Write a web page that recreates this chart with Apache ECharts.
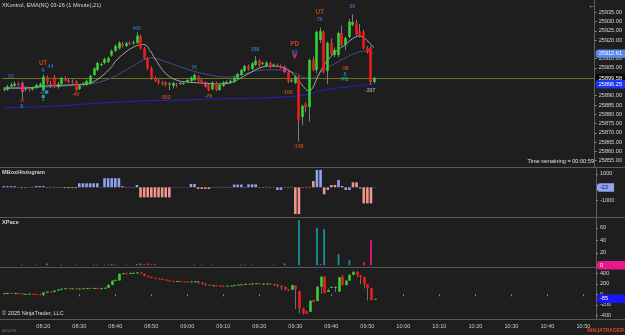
<!DOCTYPE html>
<html><head><meta charset="utf-8">
<script src="https://cdn.jsdelivr.net/npm/echarts@6/dist/echarts.min.js"></script>
<style>html,body{margin:0;padding:0;background:#1e1e1e;overflow:hidden}#c{width:625px;height:335px}</style>
</head><body><div id="c"></div>
<script>
// ---------- categories (1-minute bars) ----------
const categories = [];
for (let k = 0; k < 165; k++) { const m = 8 * 60 + 9 + k; categories.push(String(Math.floor(m / 60)).padStart(2, '0') + ':' + String(m % 60).padStart(2, '0')); }

// ---------- main price candles (08:09 .. 09:52) ----------
const priceOpen  = [25893.5,25893.2,25895.0,25895.4,25896.4,25896.9,25893.4,25894.0,25893.4,25894.3,25895.3,25893.2,25900.0,25896.6,25900.1,25894.7,25896.4,25899.4,25898.5,25897.8,25897.6,25893.6,25895.9,25895.8,25896.5,25901.2,25903.9,25906.6,25907.7,25908.2,25911.7,25914.2,25915.5,25917.9,25916.8,25918.5,25918.3,25918.5,25922.0,25915.6,25910.0,25905.0,25899.6,25898.3,25897.0,25897.2,25896.0,25895.3,25896.4,25896.9,25897.0,25897.4,25898.0,25898.5,25900.3,25898.5,25896.9,25895.8,25893.5,25896.9,25893.1,25895.3,25897.4,25896.9,25897.6,25899.4,25901.2,25903.4,25906.0,25904.4,25906.6,25908.9,25907.3,25906.0,25907.7,25906.2,25906.6,25906.0,25905.6,25902.8,25898.0,25896.9,25900.1,25878.5,25885.5,25883.9,25909.3,25903.9,25920.0,25924.4,25903.4,25918.5,25912.0,25912.0,25923.8,25917.4,25921.7,25928.2,25929.2,25924.9,25924.4,25915.8,25915.8,25897.4];
const priceHigh  = [25894.6,25896.0,25897.0,25897.6,25897.2,25897.8,25895.2,25894.8,25895.0,25896.4,25897.2,25901.4,25900.9,25898.0,25901.2,25897.4,25900.2,25900.4,25899.4,25898.8,25898.4,25896.2,25897.3,25898.8,25901.4,25905.4,25908.4,25907.9,25910.6,25911.2,25915.0,25917.6,25919.4,25919.0,25919.2,25919.4,25919.8,25924.2,25923.0,25916.4,25910.8,25905.8,25900.4,25899.0,25897.8,25897.8,25897.4,25897.6,25897.0,25897.8,25897.6,25899.0,25900.4,25902.0,25901.0,25899.2,25897.6,25896.6,25897.8,25897.6,25896.6,25898.0,25898.2,25898.8,25900.4,25902.4,25904.6,25906.8,25906.8,25908.2,25911.4,25909.6,25908.4,25908.6,25908.4,25907.4,25907.4,25906.8,25906.4,25903.4,25899.2,25901.0,25901.0,25885.2,25886.4,25910.0,25911.0,25925.2,25926.8,25925.2,25919.2,25920.8,25916.0,25924.6,25928.0,25922.0,25931.4,25934.0,25931.0,25928.6,25925.4,25916.8,25916.6,25900.2];
const priceLow   = [25892.4,25892.6,25894.2,25894.8,25895.0,25888.6,25892.3,25892.4,25892.8,25893.6,25894.8,25892.0,25896.2,25894.2,25894.0,25893.8,25895.8,25897.6,25896.8,25896.6,25892.4,25893.0,25895.0,25895.2,25896.0,25900.6,25903.2,25905.8,25907.0,25907.6,25911.0,25913.6,25914.8,25916.0,25916.2,25917.2,25917.4,25918.0,25915.0,25909.4,25904.0,25898.6,25897.4,25896.2,25895.6,25895.0,25893.0,25894.0,25894.6,25895.8,25895.8,25896.8,25897.4,25898.0,25897.6,25896.2,25894.4,25892.4,25892.8,25892.4,25892.6,25894.8,25896.6,25896.4,25897.0,25898.8,25900.6,25902.8,25903.6,25903.8,25906.0,25905.6,25906.6,25905.4,25904.8,25905.4,25905.6,25904.6,25902.2,25896.8,25897.2,25896.2,25865.2,25874.0,25881.0,25876.0,25903.2,25902.0,25918.4,25902.0,25896.2,25911.6,25910.8,25910.8,25916.6,25914.6,25920.8,25927.4,25922.4,25921.4,25915.0,25912.8,25896.0,25896.6];
const priceClose = [25893.6,25895.0,25895.9,25896.5,25895.7,25892.0,25894.1,25893.2,25894.6,25895.9,25896.5,25900.4,25897.2,25896.0,25894.7,25896.4,25899.6,25898.3,25897.4,25897.1,25893.1,25895.4,25896.5,25898.0,25900.7,25904.7,25907.7,25907.1,25909.8,25910.4,25914.2,25916.8,25918.6,25916.8,25918.3,25917.9,25918.8,25922.4,25915.6,25910.0,25904.8,25899.3,25898.2,25896.9,25896.8,25895.8,25896.6,25896.9,25895.8,25896.9,25896.4,25898.5,25899.8,25901.2,25898.1,25896.8,25895.0,25893.1,25897.0,25893.1,25895.8,25897.2,25897.4,25898.0,25899.8,25901.7,25903.9,25906.0,25904.2,25907.5,25908.9,25906.2,25907.7,25907.8,25905.6,25906.8,25906.2,25905.3,25902.8,25897.6,25898.3,25900.3,25876.9,25884.5,25883.9,25909.3,25903.9,25924.4,25924.9,25902.8,25918.5,25912.5,25914.7,25923.8,25917.4,25921.1,25929.8,25929.8,25923.3,25922.2,25915.8,25913.6,25897.4,25899.58];

// ---------- moving lines (read at sample bars: [bar, price]) ----------
const fastLine = [[0,25894.2],[6,25894.2],[12,25895.3],[18,25895.8],[24,25896.9],[27,25900.1],[30,25905.5],[31,25908.3],[34,25913.6],[37,25917.0],[39,25917.6],[41,25913.6],[42,25910.3],[45,25902.2],[48,25898.5],[51,25897.4],[55,25896.9],[60,25896.4],[63,25896.9],[66,25899.6],[69,25902.8],[72,25905.5],[75,25906.0],[78,25905.0],[80,25902.8],[82,25898.5],[84,25893.7],[85,25892.6],[86,25894.2],[87,25898.5],[89,25906.0],[91,25910.9],[93,25914.7],[95,25917.4],[97,25920.6],[99,25922.2],[101,25920.1],[103,25915.8]];
const ema21 = [[0,25893.7],[12,25894.7],[24,25896.4],[30,25899.6],[36,25906.0],[41,25910.4],[45,25908.4],[50,25905.0],[56,25901.7],[62,25900.1],[67,25901.7],[72,25903.9],[77,25903.9],[81,25902.3],[84,25899.6],[86,25899.6],[89,25903.9],[92,25907.1],[95,25910.4],[98,25913.0],[101,25914.1],[103,25912.61]];
const longLine = [[0,25883.4],[15,25884.5],[27,25886.1],[38,25887.2],[50,25887.7],[60,25888.3],[72,25888.8],[80,25889.6],[84,25890.4],[88,25892.6],[93,25894.2],[98,25895.3],[103,25896.25]];

// ---------- annotations [bar, price, text] ----------
const blueTags   = [[2,25900.6,'50'],[11,25903.4,'6'],[13,25905.5,'44'],[11,25891.5,'-23'],[37,25926.0,'400'],[53,25905.0,'76'],[70,25914.7,'388'],[81,25913.0,'83'],[88,25930.8,'76'],[97,25937.9,'38']];
const orangeTags = [[5,25887.2,'-8'],[20,25890.4,'-45'],[45,25888.8,'-552'],[57,25889.3,'-76'],[79,25891.5,'-100'],[82,25862.4,'-108'],[95,25904.4,'-58']];
const signalTags = [[11,25907.7,'UT'],[81,25917.9,'PD'],[88,25935.2,'UT']];
const tealTags   = [[5,25884.0,'8'],[11,25887.7,'2'],[95,25901.7,'8'],[95,25898.5,'PB']];
const grayTags   = [[102,25892.6,'-337']];
const pinkMarks  = [[81,25911.0]];
const cyanMarks  = [[12,25892.0],[11,25889.6]];

// ---------- MBoxHistogram ----------
const mboxValues = [80,80,80,80,20,-40,-40,30,30,90,90,90,-30,30,-30,30,-30,-60,-60,-60,-60,300,300,300,300,300,300,20,680,680,680,680,680,80,-30,30,-30,170,-750,-750,-750,-750,-750,-750,-750,-750,-750,20,20,-20,20,20,250,250,-120,-120,-120,-120,30,-30,30,30,-30,30,200,200,200,-30,220,220,220,-30,-30,40,-30,20,-200,-200,30,-30,30,-2000,-2000,-30,30,-30,470,1300,1300,-520,-200,170,170,550,100,-200,-200,370,370,-100,-1200,-1200,-1200,-22];
const mboxTone = 'bbbbbrrbbbbbrbrbrrrrrbbbbbbbbbbbbrrbrbrrrrrrrrrbbrbbbbrrrrbrbbrbbbbrbbbrrbrbbbbrbrrrbrrbbrbrrbrbbrrbrrrb';

// ---------- XPace ----------
const paceValues = [0,0,0,0,0,1,0,0,0,1,0,0,3,0,0,0,1,0,0,0,1,0,0,0,0,1,1,0,1,1,2,1,0,0,1,0,0,2,3,2,3,2,2,0,0,0,0,0,0,0,0,0,0,1,0,1,0,0,1,0,0,0,0,0,0,0,1,1,0,1,0,0,0,0,0,1,0,0,3,0,0,0,72,0,0,0,0,60,2,58,0,0,0,18,0,0,8,0,0,0,5,0,40,0];
const paceTone = 'ttttttmtttttttttttttmttttttttttttttttttmmmmmtttttttttttmttttttttttttttttttmttmtttmttttttmtttttttttmtmt';

// ---------- lower oscillator candles ----------
const oscOpen  = [15,20,25,20,22,15,5,8,10,5,0,-5,35,50,45,70,90,105,115,110,112,105,110,115,118,112,120,115,118,125,180,260,265,390,400,395,405,410,415,390,350,330,310,300,290,280,265,250,248,252,245,240,238,245,250,225,200,185,170,172,165,162,160,164,168,175,185,190,198,195,205,210,200,202,205,195,190,165,140,90,85,165,60,-270,-320,-335,-110,-130,145,335,45,120,140,50,330,175,260,370,430,365,330,195,115,-100];
const oscClose = [20,25,20,22,15,5,8,10,5,0,-5,35,50,45,70,90,105,115,110,112,105,110,115,118,112,120,115,118,125,180,260,275,390,400,395,405,410,415,400,350,330,310,300,290,280,265,250,248,252,245,240,238,245,250,225,200,185,170,172,165,162,160,164,168,175,185,190,198,195,205,210,200,202,205,195,190,165,140,90,80,175,100,-265,-355,-375,-125,-150,145,335,20,85,140,140,325,180,260,370,430,365,330,195,115,-110,-85];
const oscHigh  = [30,35,32,30,28,20,15,18,15,12,8,42,58,56,78,98,112,122,122,118,118,115,122,124,124,126,126,124,132,188,268,282,398,410,412,414,418,424,420,395,356,336,316,306,296,286,272,258,258,258,252,246,250,256,256,230,206,192,180,178,170,168,170,172,182,192,196,204,204,212,216,214,208,210,210,200,194,170,146,96,184,172,70,-255,-310,-110,-100,152,345,342,95,150,148,332,372,266,376,436,440,370,336,200,122,-80];
const oscLow   = [8,12,12,14,10,0,0,2,0,-6,-12,-10,30,40,40,64,84,100,106,104,100,100,106,110,106,108,110,110,114,120,174,254,258,384,388,388,398,404,394,344,324,304,294,284,274,258,244,242,242,238,234,232,236,220,196,180,164,164,160,156,154,156,160,166,172,182,186,190,190,200,196,196,198,190,184,160,134,84,74,78,94,-280,-365,-385,-345,-160,-140,140,10,38,112,132,44,170,168,254,364,360,326,190,110,-118,-104];

// ---------- axis tick labels ----------
const priceTicks = [25855,25860,25865,25870,25875,25880,25885,25890,25905,25910,25920,25925,25930,25935];
const mboxTicks  = [1000,-1000];
const paceTicks  = [60,40,20];
const oscTicks   = [400,200,0,-200,-400];

// ---------- styling ----------
const FONT = 'Liberation Sans';
const UP = '#34d234', DN = '#ee1c1c', FLAT = '#9a9a9a', PINK = '#ff2d7c', TEAL = '#1ab0b0';
const candleTint = {5: PINK, 50: TEAL, 56: PINK, 78: PINK};
const L = 1.9, W = 594.1;
const showTime = (i, v) => i > 5 && Number(v.slice(3)) % 10 === 0;

function candleRenderer(tint, wick) {
  return function (params, api) {
    const i = api.value(0), o = api.value(1), c = api.value(2), lo = api.value(3), hi = api.value(4);
    const po = api.coord([i, o]), pc = api.coord([i, c]), pl = api.coord([i, lo]), ph = api.coord([i, hi]);
    const bw = Math.max(api.size([1, 0])[0] * 0.72, 1.5);
    const x = Math.round(po[0]) + 0.5;
    let col = c > o ? UP : (c < o ? DN : FLAT);
    if (tint && tint[params.dataIndex]) col = tint[params.dataIndex];
    const top = Math.min(po[1], pc[1]);
    const h = Math.max(Math.abs(po[1] - pc[1]), 1);
    return { type: 'group', children: [
      { type: 'line', shape: { x1: x, y1: ph[1], x2: x, y2: pl[1] }, style: { stroke: wick, lineWidth: 1 } },
      { type: 'rect', shape: { x: x - bw / 2, y: top, width: bw, height: h }, style: { fill: col } }
    ]};
  };
}

function zipOHLC(o, c, l, h) { return o.map((v, i) => [i, v, c[i], l[i], h[i]]); }

function axisBox(value, text, bg, fg, extra) {
  return Object.assign({
    silent: true, symbol: ['none', 'none'], animation: false,
    lineStyle: { color: 'rgba(0,0,0,0)', width: 0 },
    label: { show: true, position: 'end', distance: 1, formatter: text, backgroundColor: bg, color: fg,
      fontSize: 5.6, fontFamily: FONT, padding: [1.5, 6, 1, 3], borderRadius: [3, 0, 0, 3] },
    data: [{ yAxis: value }]
  }, extra || {});
}

function tagSeries(data, color, size) {
  return { type: 'scatter', xAxisIndex: 0, yAxisIndex: 0, data: data, symbolSize: 1, silent: true, z: 5,
    itemStyle: { color: 'rgba(0,0,0,0)' },
    label: { show: true, position: 'inside', formatter: p => p.data[2], color: color, fontSize: size, fontWeight: 'bold', fontFamily: FONT } };
}

const grids = [
  { left: L, width: W, top: 0, height: 167 },
  { left: L, width: W, top: 168, height: 49 },
  { left: L, width: W, top: 218, height: 49 },
  { left: L, width: W, top: 268, height: 51 }
];
const xAxes = grids.map((g, k) => ({
  type: 'category', gridIndex: k, data: categories, boundaryGap: true,
  axisLine: { show: false },
  axisTick: { show: k === 3, alignWithLabel: true, length: 2, interval: showTime, lineStyle: { color: '#8a8a8a' } },
  axisLabel: { show: k === 3, interval: showTime, color: '#c9c9c9', fontSize: 5.6, fontFamily: FONT, margin: 4 },
  splitLine: { show: false }
}));
function yAx(k, min, max, ticks, fmt) {
  return { type: 'value', gridIndex: k, position: 'right', min: min, max: max, scale: true,
    axisLine: { show: true, lineStyle: { color: '#5e5e5e' } },
    axisTick: { show: true, length: 2, customValues: ticks, lineStyle: { color: '#8a8a8a' } },
    axisLabel: { customValues: ticks, formatter: fmt, color: '#d4d4d4', fontSize: 5.6, fontFamily: FONT, margin: 4 },
    splitLine: { show: false } };
}
const yAxes = [
  yAx(0, 25851.6, 25941.6, priceTicks, v => v.toFixed(2)),
  yAx(1, -2216, 1440, mboxTicks, v => String(v)),
  yAx(2, -2.7, 75.7, paceTicks, v => String(v)),
  yAx(3, -470.5, 501, oscTicks, v => String(v))
];

const lastClose = priceClose[priceClose.length - 1];
const series = [
  { type: 'line', xAxisIndex: 0, yAxisIndex: 0, data: longLine, smooth: 0.3, showSymbol: false, silent: true, z: 2,
    lineStyle: { color: '#1e22c8', width: 1 }, markLine: axisBox(longLine[longLine.length - 1][1], '25896.25', '#1d36f0', '#ffffff') },
  { type: 'line', xAxisIndex: 0, yAxisIndex: 0, data: ema21, smooth: 0.4, showSymbol: false, silent: true, z: 2,
    lineStyle: { color: '#3f5283', width: 1 }, markLine: axisBox(ema21[ema21.length - 1][1], '25912.61', '#5b87e8', '#ffffff') },
  { type: 'line', xAxisIndex: 0, yAxisIndex: 0, data: fastLine, smooth: 0.4, showSymbol: false, silent: true, z: 2,
    lineStyle: { color: '#a6a6a6', width: 1 } },
  { type: 'custom', xAxisIndex: 0, yAxisIndex: 0, data: zipOHLC(priceOpen, priceClose, priceLow, priceHigh),
    encode: { x: 0, y: [1, 2, 3, 4] }, renderItem: candleRenderer(candleTint, '#7c7c7c'), silent: true, z: 3,
    markLine: Object.assign(axisBox(lastClose, lastClose.toFixed(2), '#050505', '#ffffff'), { lineStyle: { color: '#6f6f26', width: 1, type: 'solid' }, z: 1 }) },
  tagSeries(blueTags, '#2f7fd6', 5.2),
  tagSeries(orangeTags, '#e0561e', 5.2),
  tagSeries(signalTags, '#e2501b', 6.4),
  tagSeries(tealTags, '#17a6a6', 5.4),
  tagSeries(grayTags, '#bdbdbd', 5.2),
  { type: 'scatter', xAxisIndex: 0, yAxisIndex: 0, data: pinkMarks, symbol: 'triangle', symbolRotate: 180, symbolSize: 5, silent: true, z: 6, itemStyle: { color: '#ff1f8e' } },
  { type: 'scatter', xAxisIndex: 0, yAxisIndex: 0, data: cyanMarks, symbol: 'rect', symbolSize: [3, 3], silent: true, z: 6, itemStyle: { color: '#19c3d2' } },
  { type: 'bar', xAxisIndex: 1, yAxisIndex: 1, barWidth: '72%', silent: true,
    data: mboxValues.map((v, i) => ({ value: v, itemStyle: { color: mboxTone[i] === 'b' ? '#8da3f0' : '#f3958f' } })),
    markLine: axisBox(mboxValues[mboxValues.length - 1], '-22', '#8fa3ef', '#1a1a40') },
  { type: 'bar', xAxisIndex: 2, yAxisIndex: 2, barWidth: '50%', silent: true,
    data: paceValues.map((v, i) => ({ value: v, itemStyle: { color: paceTone[i] === 't' ? '#14959a' : '#e3177e' } })),
    markLine: axisBox(paceValues[paceValues.length - 1], '0            ', '#ea168b', '#ffffff') },
  { type: 'custom', xAxisIndex: 3, yAxisIndex: 3, data: zipOHLC(oscOpen, oscClose, oscLow, oscHigh),
    encode: { x: 0, y: [1, 2, 3, 4] }, renderItem: candleRenderer(null, '#6e6e6e'), silent: true,
    markLine: axisBox(oscClose[oscClose.length - 1], '-85          ', '#1717f5', '#ffffff') }
];

const hl = y => ({ type: 'line', shape: { x1: 0, y1: y, x2: 625, y2: y }, style: { stroke: '#585858', lineWidth: 1 }, silent: true });
const txt = (x, y, t, color, size, extra) => ({ type: 'text', x: x, y: y, silent: true, style: Object.assign({ text: t, fill: color, fontSize: size, fontFamily: FONT }, extra || {}) });

const chart = echarts.init(document.getElementById('c'), null, { renderer: 'canvas' });
chart.setOption({
  animation: false,
  backgroundColor: '#1e1e1e',
  grid: grids, xAxis: xAxes, yAxis: yAxes, series: series,
  graphic: [
    hl(167.5), hl(217.5), hl(267.5), hl(319.5),
    txt(2, 2, 'XKontrol, EMA(NQ 03-26 (1 Minute),21)', '#d6d6d6', 5.6),
    txt(2, 169.5, 'MBoxHistogram', '#cfcfcf', 5.6, { fontWeight: 'bold' }),
    txt(2, 219.5, 'XPace', '#cfcfcf', 5.6, { fontWeight: 'bold' }),
    txt(2, 310, '\u00a9 2025 NinjaTrader, LLC', '#dcdcdc', 5.6),
    txt(594, 158.5, 'Time remaining = 00:00:59', '#e0e0e0', 5.6, { align: 'right' }),
    txt(624, 328, 'NINJATRADER', '#d9461d', 5.2, { align: 'right', fontWeight: 'bold' }),
    txt(588, 2, '\u2190', '#c8c8c8', 8),
    txt(2, 329, '09:52:59', '#8a8a8a', 3.6)
  ]
});
</script></body></html>
